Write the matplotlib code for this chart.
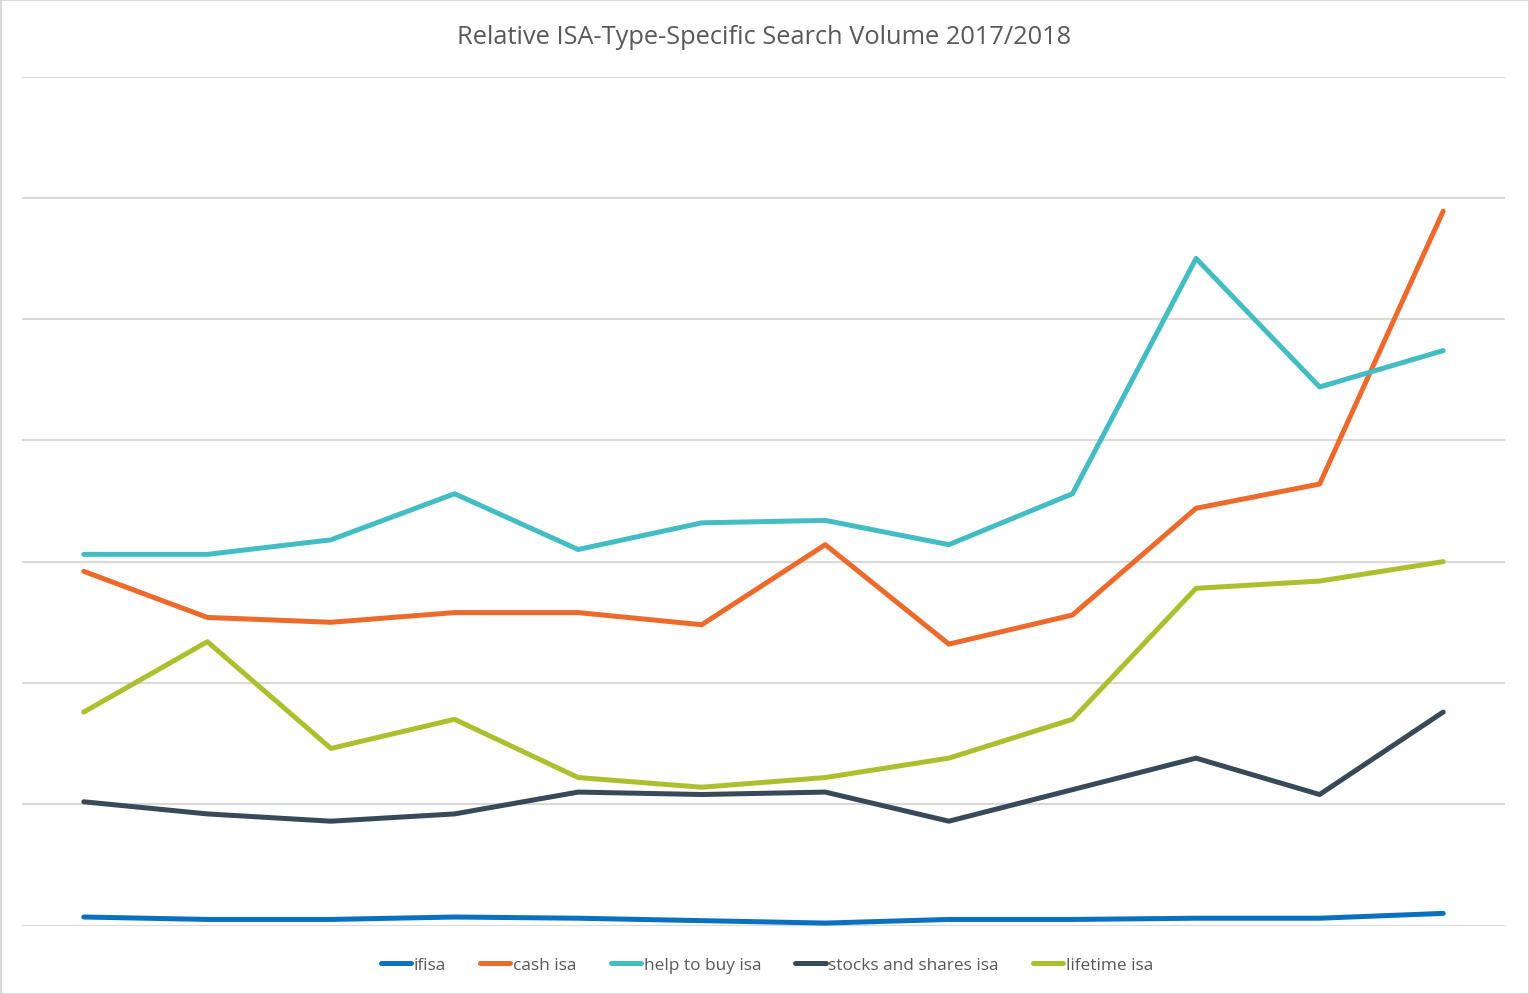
import matplotlib
matplotlib.use("Agg")
import matplotlib.pyplot as plt
from matplotlib.patches import Rectangle

plt.rcParams['font.family'] = ['Open Sans', 'DejaVu Sans']

# monthly points, 2017/2018 (relative units)
months = list(range(12))
ifisa = [0.07, 0.05, 0.05, 0.07, 0.06, 0.04, 0.02, 0.05, 0.05, 0.06, 0.06, 0.10]
cash_isa = [2.92, 2.54, 2.50, 2.58, 2.58, 2.48, 3.14, 2.32, 2.56, 3.44, 3.64, 5.89]
help_to_buy_isa = [3.06, 3.06, 3.18, 3.56, 3.10, 3.32, 3.34, 3.14, 3.56, 5.50, 4.44, 4.74]
stocks_and_shares_isa = [1.02, 0.92, 0.86, 0.92, 1.10, 1.08, 1.10, 0.86, 1.12, 1.38, 1.08, 1.76]
lifetime_isa = [1.76, 2.34, 1.46, 1.70, 1.22, 1.14, 1.22, 1.38, 1.70, 2.78, 2.84, 3.00]

series = [
    ("ifisa", ifisa, "#0a70c0"),
    ("cash isa", cash_isa, "#ec6a2b"),
    ("help to buy isa", help_to_buy_isa, "#44bcc4"),
    ("stocks and shares isa", stocks_and_shares_isa, "#38495a"),
    ("lifetime isa", lifetime_isa, "#acbf2f"),
]

fig = plt.figure(figsize=(15.29, 9.95), dpi=100)
ax = fig.add_axes([22/1529, 68.5/995, 1483/1529, 849/995])

for name, vals, col in series:
    ax.plot(months, vals, color=col, lw=3.6, label=name, solid_capstyle='round')

ax.set_xlim(-0.5, 11.5)
ax.set_ylim(0, 7)
ax.set_yticks(range(8))
ax.grid(axis='y', color='#d9d9d9', lw=1.5)
ax.set_axisbelow(True)
ax.tick_params(left=False, bottom=False, labelleft=False, labelbottom=False)
for s in ax.spines.values():
    s.set_visible(False)

fig.text(0.5, 1 - 37.5/995, "Relative ISA-Type-Specific Search Volume 2017/2018",
         ha='center', va='center', fontsize=18.3, color='#595959')

fig.legend(loc='center', bbox_to_anchor=(767/1529, 1 - 966/995), ncol=5, frameon=False,
           fontsize=12.4, handlelength=1.75, handletextpad=0.15, columnspacing=2.0,
           labelcolor='#595959')

fig.patches.append(Rectangle((0.5/1529, 0.5/995), 1 - 1/1529, 1 - 1/995, transform=fig.transFigure,
                             fill=False, edgecolor='#d9d9d9', lw=1.5))

fig.savefig("out.png", dpi=100)
